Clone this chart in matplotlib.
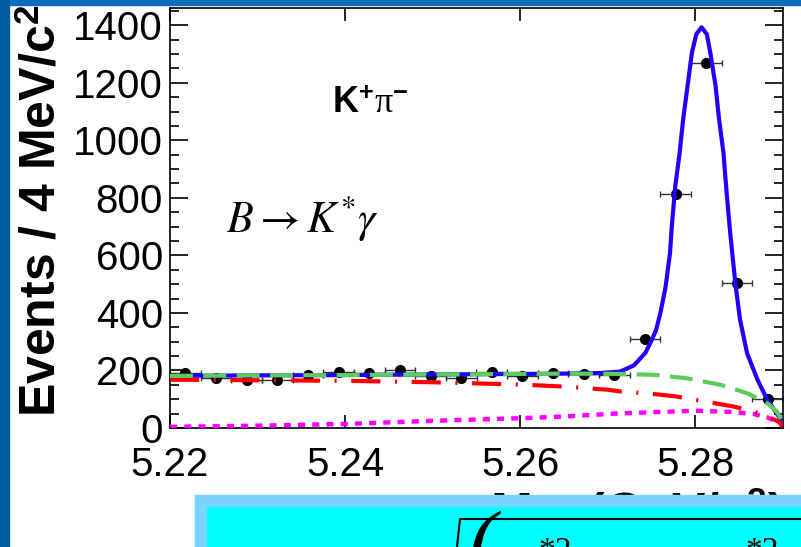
import matplotlib
matplotlib.use('Agg')
import matplotlib.pyplot as plt
from matplotlib.patches import Rectangle
from matplotlib.lines import Line2D
from matplotlib.ticker import MultipleLocator

# 数据点 (Mbc, 3.5 MeV bins)
bin_lo = 5.22
bin_w = 0.0035
counts = [190, 173, 167, 167, 185, 194, 190, 200, 181, 175,
          196, 181, 190, 188, 185, 309, 815, 1269, 504, 101]
x_centers = [bin_lo + bin_w * (i + 0.5) for i in range(len(counts))]

# 拟合曲线 (读图取点)
total_x = [5.2200, 5.2300, 5.2400, 5.2500, 5.2600, 5.2650, 5.2691, 5.2714, 5.2730,
           5.2743, 5.2750, 5.2755, 5.2760, 5.2766, 5.2771, 5.2773, 5.2777, 5.2782,
           5.2786, 5.2791, 5.2796, 5.2801, 5.2807, 5.2813, 5.2817, 5.2823, 5.2827,
           5.2832, 5.2835, 5.2839, 5.2842, 5.2846, 5.2851, 5.2859, 5.2871, 5.2882,
           5.2893, 5.2900]
total_y = [181, 183, 184, 186, 188, 189, 191, 196, 218,
           262, 305, 340, 400, 492, 609, 701, 841, 957,
           1073, 1189, 1305, 1369, 1393, 1369, 1305, 1189, 1073,
           957, 841, 701, 609, 492, 376, 260, 167, 98,
           51, 15]

bkg_x = [5.2200, 5.2300, 5.2400, 5.2500, 5.2600, 5.2650, 5.2714, 5.2752, 5.2790,
         5.2829, 5.2859, 5.2882, 5.2893, 5.2900]
bkg_y = [181, 183, 184, 186, 188, 189, 188, 185, 173,
         150, 121, 86, 57, 20]

cont_x = [5.2200, 5.2300, 5.2400, 5.2500, 5.2600, 5.2650, 5.2700, 5.2714, 5.2750,
          5.2777, 5.2811, 5.2843, 5.2864, 5.2879, 5.2891, 5.2897, 5.2900]
cont_y = [168, 166, 164, 159, 151, 144, 133, 127, 119,
          110, 92, 75, 60, 43, 28, 18, 5]

peak_x = [5.2200, 5.2300, 5.2400, 5.2500, 5.2600, 5.2650, 5.2714, 5.2752, 5.2802,
          5.2840, 5.2866, 5.2882, 5.2893, 5.2899, 5.2900]
peak_y = [4, 8, 14, 25, 34, 40, 51, 55, 60,
          56, 49, 37, 22, 10, 3]

x_ticks = [5.22, 5.24, 5.26, 5.28]
y_ticks = [0, 200, 400, 600, 800, 1000, 1200, 1400]

plt.rcParams['font.family'] = ['Liberation Sans', 'DejaVu Sans']
plt.rcParams['mathtext.fontset'] = 'custom'
plt.rcParams['mathtext.rm'] = 'Liberation Serif'
plt.rcParams['mathtext.bf'] = 'Liberation Sans:bold'
plt.rcParams['mathtext.it'] = 'Liberation Serif:italic'

W, H = 801, 547
fig = plt.figure(figsize=(W / 100, H / 100), dpi=100)


def fx(px):
    return px / W


def fy(py):
    return 1 - py / H


# 幻灯片背景
fig.add_artist(Rectangle((0, fy(5)), 1, 5 / H, transform=fig.transFigure,
                         color='#0B6DBE', zorder=-1))
fig.add_artist(Rectangle((0, 0), fx(9), 1, transform=fig.transFigure,
                         color='#005CA3', zorder=-1))

ax = fig.add_axes([fx(170), fy(428), fx(783) - fx(170), fy(8) - fy(428)])

ax.errorbar(x_centers, counts, xerr=bin_w / 2, fmt='o', color='black', ms=7,
            ecolor='#333333', elinewidth=1, capsize=2.5, capthick=1, zorder=2)

ax.plot(total_x, total_y, color='#2200FF', lw=3, zorder=3)
ax.plot(peak_x, peak_y, color='#FF00FF', lw=3.2, linestyle=(0, (1.6, 1.6)),
        dash_capstyle='butt', zorder=4)
ax.plot(cont_x, cont_y, color='#FF0000', lw=3,
        linestyle=(0, (7, 3.5, 0.5, 3.5)), dash_capstyle='butt', zorder=4)
ax.plot(bkg_x, bkg_y, color='#5CCD5C', lw=3, linestyle=(0, (5.5, 2.5)),
        dash_capstyle='butt', zorder=5)

ax.set_xlim(5.22, 5.29)
ax.set_ylim(0, 1460)
ax.set_xticks(x_ticks)
ax.set_xticklabels(['%.2f' % t for t in x_ticks])
ax.set_yticks(y_ticks)
ax.yaxis.set_minor_locator(MultipleLocator(50))
ax.tick_params(axis='y', which='major', direction='in', length=13, width=1.2,
               left=True, right=True, labelsize=29, pad=5)
ax.tick_params(axis='y', which='minor', direction='in', length=6.5, width=1.2,
               left=True, right=True)
ax.tick_params(axis='x', which='major', direction='in', length=9.5, width=1.2,
               top=True, bottom=True, labelsize=29, pad=13)
for s in ax.spines.values():
    s.set_linewidth(1.2)

# 标注
fig.text(fx(332), fy(113), r'$\mathbf{K}^{\mathbf{+}}\mathrm{\pi}^{\mathbf{-}}$',
         fontsize=26, ha='left', va='baseline')
fig.text(fx(226), fy(232), r'$B \rightarrow K^{*}\gamma$', math_fontfamily='stix',
         fontsize=31.5, ha='left', va='baseline')

# 坐标轴标题
fig.text(fx(19), fy(5), r'Events / 4 MeV/c$^{\mathbf{2}}$', fontsize=36,
         fontweight='bold', rotation=90, ha='left', va='top')
fig.text(fx(783), fy(529), r'M$_{\mathbf{bc}}$ (GeV/c$^{\mathbf{2}}$)', fontsize=36,
         fontweight='bold', ha='right', va='baseline')

# 下方公式框
fig.add_artist(Rectangle((fx(195), 0), 1 - fx(195), fy(495), transform=fig.transFigure,
                         color='#7AD4FF', zorder=10))
fig.add_artist(Rectangle((fx(207), 0), 1 - fx(207), fy(507), transform=fig.transFigure,
                         color='#00FFFF', zorder=11))
fig.add_artist(Line2D([fx(457), fx(460), fx(801)], [fy(547), fy(519), fy(519)],
                      transform=fig.transFigure, color='black', lw=1.5, zorder=12))
fig.text(fx(468), fy(511), '(', fontsize=60, family='Liberation Serif',
         style='italic', ha='left', va='top', zorder=12)
fig.text(fx(538), fy(536), '*2', fontsize=24, family='Liberation Serif',
         ha='left', va='top', zorder=12)
fig.text(fx(745), fy(536), '*2', fontsize=24, family='Liberation Serif',
         ha='left', va='top', zorder=12)

plt.savefig('out.png', dpi=100)
plt.close(fig)
